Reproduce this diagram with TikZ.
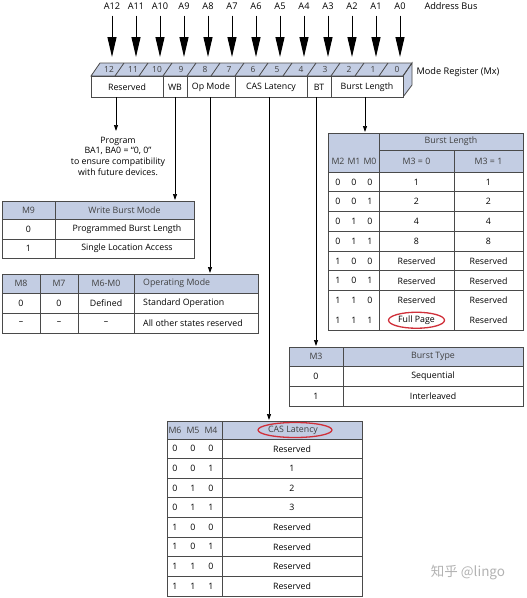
\documentclass[tikz,border=0pt]{standalone}
\usepackage{fontspec}
\setmainfont{Open Sans}
\newfontfamily\cjk{Noto Sans CJK SC}
\usetikzlibrary{arrows.meta}
\definecolor{hdr}{HTML}{C3CDE3}
\definecolor{ellred}{HTML}{D0303A}
\definecolor{tline}{HTML}{4A4A4A}
\definecolor{htxt}{HTML}{404040}
\begin{document}
\begin{tikzpicture}[x=1pt,y=-1pt,
  font=\fontsize{8.8}{10.7}\selectfont,
  tl/.style={draw=tline, line width=0.8pt},
  txt/.style={inner sep=0pt, anchor=center},
  htx/.style={inner sep=0pt, anchor=center, text=htxt},
  bigarrow/.style={-{Triangle[length=20pt,width=9pt]}, line width=1pt},
  smallarrow/.style={-{Triangle[length=6pt,width=4pt]}, line width=0.7pt},
  redell/.style={draw=ellred, line width=1.3pt},
]
\useasboundingbox (0,0) rectangle (527,598);

% ---------- Address bus ----------
\foreach \i in {0,...,12}{
  \pgfmathsetmacro\xx{112+24*(12-\i)}
  \node[txt, font=\fontsize{9.2}{10}\selectfont] (A\i) at (\xx,6) {A\i};
  \coordinate (T\i) at (\xx,57);
  \draw[bigarrow, shorten <=6pt] (A\i.south) -- (T\i);
}
\node[txt, font=\fontsize{9.2}{10}\selectfont] (abus) at (451,6) {Address Bus};

% ---------- Mode register ----------
\fill[hdr] (91,76) -- (100,63) -- (412,63) -- (403,76) -- cycle;
\fill[hdr] (403,76) -- (412,63) -- (412,85) -- (403,97) -- cycle;
\draw[tl] (91,76) -- (100,63) -- (412,63) -- (403,76) -- cycle;
\draw[tl] (403,76) -- (412,63) -- (412,85) -- (403,97);
\draw[tl, fill=white] (91,76) rectangle (403,97);
\foreach \k in {1,...,12}{
  \draw[tl] (91+24*\k,76) -- (100+24*\k,63);
}
\foreach \i in {0,...,12}{
  \pgfmathsetmacro\xx{91+24*(12-\i)+18}
  \node[htx, font=\fontsize{8.4}{9}\selectfont] (b\i) at (\xx,69.5) {\i};
}
\foreach \xx in {163,187,235,307,331}{
  \draw[tl] (\xx,76) -- (\xx,97);
}
\node[txt] (fres) at (127,87) {Reserved};
\node[txt] (fwb) at (175,87) {WB};
\node[txt] (fop) at (211,87) {Op Mode};
\node[txt] (fcas) at (271,87) {CAS Latency};
\node[txt] (fbt) at (319,87) {BT};
\node[txt] (fbl) at (367,87) {Burst Length};
\node[txt, font=\fontsize{9.2}{10}\selectfont] (mreg) at (458,72) {Mode Register (Mx)};

% register outlet points
\coordinate (oRes) at (116,97);
\coordinate (oWB) at (175,97);
\coordinate (oOp) at (210,97);
\coordinate (oCAS) at (269,97);
\coordinate (oBT) at (316,97);
\coordinate (oBL) at (365,97);

% ---------- Program note ----------
\node[txt, align=center] (prog) at (118,156) {Program\\BA1, BA0 = “0, 0”\\to ensure compatibility\\with future devices.};
\coordinate (iProg) at (116,131);

% ---------- M9 table ----------
\fill[hdr] (2,201) rectangle (194,219);
\draw[tl] (2,201) rectangle (194,258);
\draw[tl] (2,219) -- (194,219);
\draw[tl] (2,239) -- (194,239);
\draw[tl] (55,201) -- (55,258);
\coordinate (iWB) at (175,200);
\node[htx] (m9h) at (28.5,210) {M9};
\node[htx] (wbmh) at (124.5,210) {Write Burst Mode};
\node[txt] (m9a) at (28.5,229) {0};
\node[txt] (wba) at (127,229) {Programmed Burst Length};
\node[txt] (m9b) at (28.5,248.5) {1};
\node[txt] (wbb) at (127,248.5) {Single Location Access};

% ---------- Op mode table ----------
\fill[hdr] (2,274) rectangle (258,293);
\draw[tl] (2,274) rectangle (258,333);
\draw[tl] (2,293) -- (258,293);
\draw[tl] (2,313) -- (258,313);
\foreach \xx in {40,78,134}{ \draw[tl] (\xx,274) -- (\xx,333); }
\coordinate (iOp) at (210,273);
\node[htx] (m8h) at (21,283.5) {M8};
\node[htx] (m7h) at (59,283.5) {M7};
\node[htx] (m60h) at (106,283.5) {M6-M0};
\node[htx, anchor=west] (omh) at (143,283.5) {Operating Mode};
\node[txt] (m8a) at (21,303) {0};
\node[txt] (m7a) at (59,303) {0};
\node[txt] (m60a) at (106,303) {Defined};
\node[txt, anchor=west] (oma) at (143,303) {Standard Operation};
\node[txt] (m8b) at (21,323) {–};
\node[txt] (m7b) at (59,323) {–};
\node[txt] (m60b) at (106,323) {–};
\node[txt, anchor=west] (omb) at (143,323) {All other states reserved};

% ---------- Burst length table ----------
\fill[hdr] (328,133) rectangle (523,172);
\draw[tl] (328,133) rectangle (523,330);
\draw[tl] (379,150) -- (523,150);
\draw[tl] (379,133) -- (379,330);
\draw[tl] (454,150) -- (454,330);
\foreach \k in {0,...,6}{ \draw[tl] (328,{172+19.75*\k}) -- (523,{172+19.75*\k}); }
\coordinate (iBL) at (365,132);
\node[htx] (blh) at (451,141.5) {Burst Length};
\node[htx] (m2h) at (338,161) {M2};
\node[htx] (m1h) at (354,161) {M1};
\node[htx] (m0h) at (370,161) {M0};
\node[htx] (m30h) at (416.5,161) {M3 = 0};
\node[htx] (m31h) at (488.5,161) {M3 = 1};
\foreach \a/\b/\c/\u/\v [count=\r from 0] in {0/0/0/1/1, 0/0/1/2/2, 0/1/0/4/4, 0/1/1/8/8, 1/0/0/Reserved/Reserved, 1/0/1/Reserved/Reserved, 1/1/0/Reserved/Reserved, 1/1/1/Full Page/Reserved}{
  \pgfmathsetmacro\yy{172+19.75*\r+10}
  \node[txt] (bl\r a) at (338,\yy) {\a};
  \node[txt] (bl\r b) at (354,\yy) {\b};
  \node[txt] (bl\r c) at (370,\yy) {\c};
  \node[txt] (bl\r u) at (416.5,\yy) {\u};
  \node[txt] (bl\r v) at (488.5,\yy) {\v};
}
\draw[redell] (bl7u) ellipse [x radius=28pt, y radius=8pt];

% ---------- Burst type table ----------
\fill[hdr] (289,347) rectangle (523,366);
\draw[tl] (289,347) rectangle (523,406);
\draw[tl] (289,366) -- (523,366);
\draw[tl] (289,386) -- (523,386);
\draw[tl] (343,347) -- (343,406);
\coordinate (iBT) at (316,346);
\node[htx] (m3h) at (316,356.5) {M3};
\node[htx] (bth) at (433,356.5) {Burst Type};
\node[txt] (m3a) at (316,376) {0};
\node[txt] (bta) at (433,376) {Sequential};
\node[txt] (m3b) at (316,396) {1};
\node[txt] (btb) at (433,396) {Interleaved};

% ---------- CAS latency table ----------
\fill[hdr] (167,421) rectangle (362,439);
\draw[tl] (167,421) rectangle (362,596);
\draw[tl] (222,421) -- (222,596);
\foreach \k in {0,...,7}{ \draw[tl] (167,{439+19.6*\k}) -- (362,{439+19.6*\k}); }
\coordinate (iCAS) at (269,420);
\node[htx] (m6h) at (175,430) {M6};
\node[htx] (m5h) at (193,430) {M5};
\node[htx] (m4h) at (211,430) {M4};
\node[htx] (clh) at (293,430) {CAS Latency};
\draw[redell] (295,430) ellipse [x radius=37pt, y radius=7.5pt];
\foreach \a/\b/\c/\u [count=\r from 0] in {0/0/0/Reserved, 0/0/1/1, 0/1/0/2, 0/1/1/3, 1/0/0/Reserved, 1/0/1/Reserved, 1/1/0/Reserved, 1/1/1/Reserved}{
  \pgfmathsetmacro\yy{439+19.6*\r+9.8}
  \node[txt] (cl\r a) at (175,\yy) {\a};
  \node[txt] (cl\r b) at (193,\yy) {\b};
  \node[txt] (cl\r c) at (211,\yy) {\c};
  \node[txt] (cl\r u) at (292,\yy) {\u};
}

% ---------- connectors ----------
\draw[smallarrow] (oRes) -- (iProg);
\draw[smallarrow] (oWB) -- (iWB);
\draw[smallarrow] (oOp) -- (iOp);
\draw[smallarrow] (oCAS) -- (iCAS);
\draw[smallarrow] (oBT) -- (iBT);
\draw[smallarrow] (oBL) -- (iBL);

% ---------- watermark ----------
\node[txt, text=black!30, font=\cjk\fontsize{13.5}{15}\selectfont] (wm) at (468,573) {知乎 @lingo};
\end{tikzpicture}
\end{document}
